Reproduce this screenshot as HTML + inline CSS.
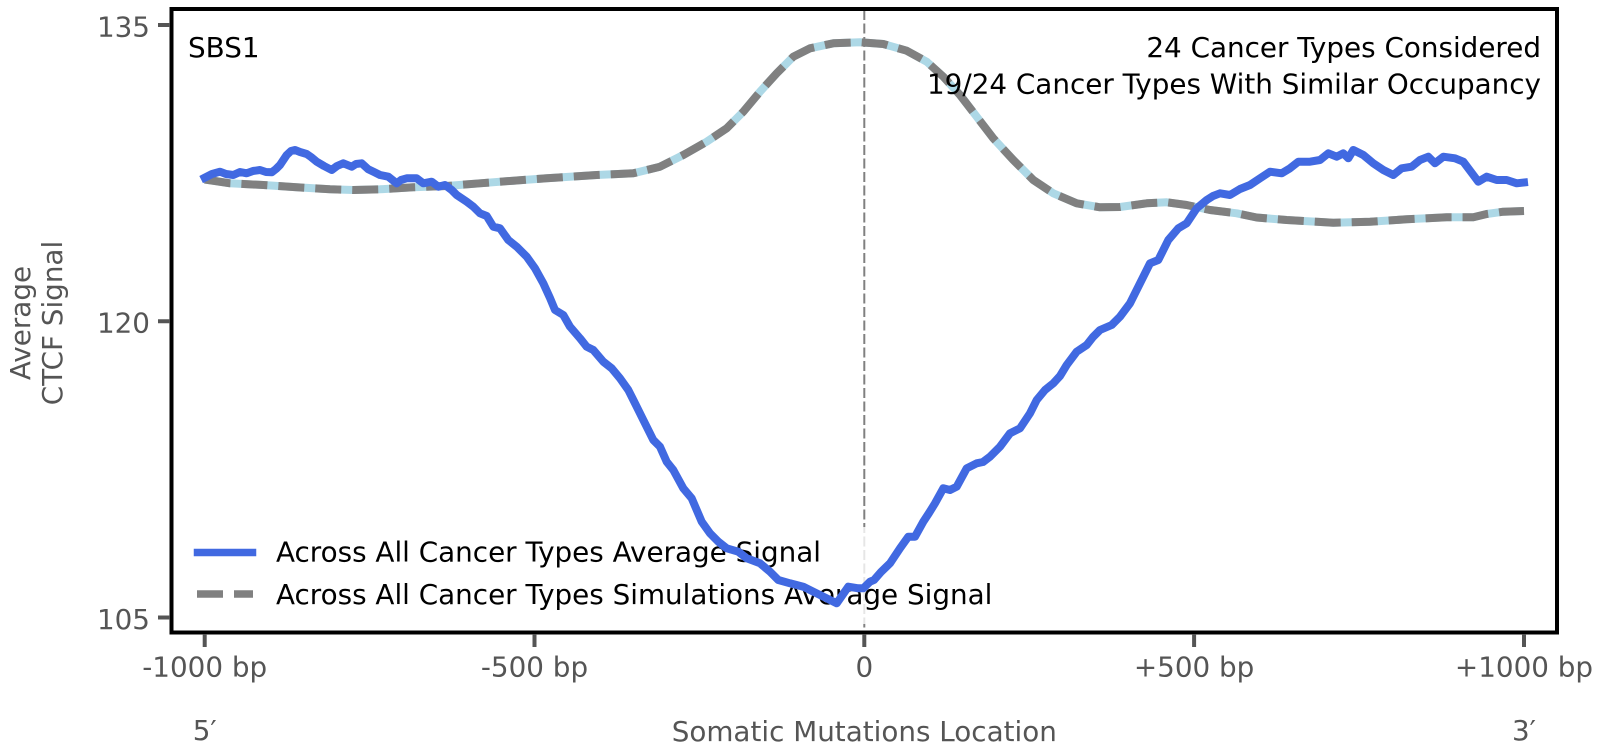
<!DOCTYPE html>
<html><head><meta charset="utf-8"><style>
html,body{margin:0;padding:0;background:#fff;}
svg{display:block;}
text{font-family:"DejaVu Sans","Liberation Sans",sans-serif;font-size:27.8px;}
</style></head><body>
<svg width="1603" height="756" viewBox="0 0 1603 756" xmlns="http://www.w3.org/2000/svg">
<rect x="0" y="0" width="1603" height="756" fill="#fff"/>
<!-- vertical dashed line -->
<line x1="864.3" y1="10" x2="864.3" y2="631" stroke="#808080" stroke-width="2" stroke-dasharray="10 3.5"/>
<!-- simulation line: lightblue under gray dashed -->
<polyline fill="none" stroke="#ADD8E6" stroke-width="8" stroke-linejoin="round" points="204.7,179.5 215,181 230,183.3 263.3,185 296.7,187.3 330,189.3 353.3,190 380,189.3 413.3,187.3 446.7,186 480,183.3 513.3,180.7 546.7,178.3 596.7,175 633.3,173.3 660,166.7 683.3,155 706.7,141.7 726.7,128.3 743.3,111.7 760,91.7 776.7,73.3 793.3,56.7 810,48.3 833.3,43.3 860,42.3 883.3,44 906.7,50.7 926.7,61.7 943.3,76.7 960,95 976.7,116.7 993.3,138.3 1013.3,160 1033.3,180 1053.3,193.3 1076.7,203.3 1100,207.3 1120,207 1146.7,203.3 1166.7,202.3 1186.7,205 1210,210 1236.7,213.3 1256.7,217.5 1286.7,220 1333.3,222.7 1370,221.7 1406.7,219.3 1446.7,217.3 1473.3,217.3 1486.7,214 1503.3,211.7 1524,211"/>
<polyline fill="none" stroke="#808080" stroke-width="8" stroke-linejoin="round" stroke-dasharray="26 11" points="204.7,179.5 215,181 230,183.3 263.3,185 296.7,187.3 330,189.3 353.3,190 380,189.3 413.3,187.3 446.7,186 480,183.3 513.3,180.7 546.7,178.3 596.7,175 633.3,173.3 660,166.7 683.3,155 706.7,141.7 726.7,128.3 743.3,111.7 760,91.7 776.7,73.3 793.3,56.7 810,48.3 833.3,43.3 860,42.3 883.3,44 906.7,50.7 926.7,61.7 943.3,76.7 960,95 976.7,116.7 993.3,138.3 1013.3,160 1033.3,180 1053.3,193.3 1076.7,203.3 1100,207.3 1120,207 1146.7,203.3 1166.7,202.3 1186.7,205 1210,210 1236.7,213.3 1256.7,217.5 1286.7,220 1333.3,222.7 1370,221.7 1406.7,219.3 1446.7,217.3 1473.3,217.3 1486.7,214 1503.3,211.7 1524,211"/>
<!-- legend background -->
<rect x="183" y="527" width="820" height="97" fill="#fff" fill-opacity="0.8"/>
<!-- legend -->
<line x1="197.5" y1="552.5" x2="252.5" y2="552.5" stroke="#4169E1" stroke-width="7.5" stroke-linecap="square"/>
<line x1="197" y1="594" x2="253" y2="594" stroke="#808080" stroke-width="7.5" stroke-dasharray="26 11"/>
<text x="276" y="561.7" fill="#000">Across All Cancer Types Average Signal</text>
<text x="276" y="604" fill="#000">Across All Cancer Types Simulations Average Signal</text>
<!-- blue line -->
<polyline fill="none" stroke="#4169E1" stroke-width="8" stroke-linejoin="round" stroke-linecap="square" points="204.7,177.7 212,174 220,171.7 226,174 233.3,175 240,172 246.7,173.3 253,171 260,170 266,172 271.7,172.3 276,169 280,165 286.7,155 291,151 295,150 300,152 306.7,154 311,157 316.7,161.7 324,166 331.7,170 337,166 343.3,163.3 351.7,166.7 356,164 361.7,163.3 368.3,169.3 374,172 380,175 388.3,176.7 396.7,183.3 401,180 406.7,178.3 416.7,178.3 423.3,183.3 431.7,181.7 438.3,186.7 445,185 451.7,190 456.7,195 466.7,201.7 473.3,206.7 480,213.3 486.7,216 493.3,226.7 500,228.3 508.3,240 516.7,246.7 526.7,256.7 535,268.3 543.3,283.3 550,298 555,310 563.3,315 570,326.7 580,338.3 586.7,346.7 593.3,350 603.3,361.7 611.7,368.3 620,378.3 628.3,390 635,403.3 643.3,420 653.3,440 660,446.7 666.7,461.7 673.3,470 683.3,488.3 691.7,498.3 701.7,521.7 710,533.3 718.3,541.7 726.7,548.3 738.3,551.7 746.7,558.3 760,563.3 770,571.7 778.3,580 790,583.3 803.3,586.7 813.3,591.7 826.7,598.3 836.7,603.3 848.3,586.7 858.3,588.3 863.3,588.3 870,581.7 874,580 881,572 890,563.3 900,548.3 908.3,536.7 915,536.7 923.3,521.7 929,513 935,503.3 943.3,488.3 950,490 956.7,486.7 966.7,468.3 976.7,463.3 983,462 990,456.7 1000,446.7 1010,433.3 1020,428.3 1030,413.3 1036.7,400 1045,390 1053.3,383.3 1060,376 1066.7,365 1076.7,351.7 1086.7,345 1093,337 1100,330 1111.7,325 1120,316.7 1130,303.3 1140,283.3 1150,263.3 1158.3,260 1168.3,240 1178.3,228.3 1186.7,223.3 1196.7,208.3 1206.7,200 1213,196 1220,193.3 1230,195 1240,189 1250,185 1260,178.3 1270,171.7 1281.7,173.3 1290,168.3 1298.3,161.7 1310,161.7 1320,160 1328.3,153.3 1336.7,156.7 1343.3,153.3 1348.3,158.3 1353.3,150 1363.3,155 1373.3,163.3 1383.3,170 1393.3,175 1401.7,168.3 1411.7,166.7 1420,160 1428.3,156.7 1435,163.3 1443.3,156.7 1455,158.3 1463.3,161.7 1473.3,175 1478.3,181.7 1486.7,176.7 1496.7,180 1506.7,180 1516.7,183.3 1524,182.5"/>
<!-- annotations -->
<text x="188" y="57" fill="#000">SBS1</text>
<text x="1541" y="57" fill="#000" text-anchor="end">24 Cancer Types Considered</text>
<text x="1541" y="93.5" fill="#000" text-anchor="end">19/24 Cancer Types With Similar Occupancy</text>
<!-- frame -->
<rect x="171.5" y="9" width="1385.5" height="623.5" fill="none" stroke="#000" stroke-width="4"/>
<!-- ticks -->
<g stroke="#555" stroke-width="4">
<line x1="158" y1="25" x2="170" y2="25"/>
<line x1="158" y1="321.25" x2="170" y2="321.25"/>
<line x1="158" y1="617.5" x2="170" y2="617.5"/>
<line x1="204.7" y1="634" x2="204.7" y2="647"/>
<line x1="534.5" y1="634" x2="534.5" y2="647"/>
<line x1="864.3" y1="634" x2="864.3" y2="647"/>
<line x1="1194.1" y1="634" x2="1194.1" y2="647"/>
<line x1="1524" y1="634" x2="1524" y2="647"/>
</g>
<g fill="#555">
<text x="150" y="36.5" text-anchor="end">135</text>
<text x="150" y="332.5" text-anchor="end">120</text>
<text x="150" y="629" text-anchor="end">105</text>
<text x="204.7" y="676.5" text-anchor="middle">-1000 bp</text>
<text x="534.5" y="676.5" text-anchor="middle">-500 bp</text>
<text x="864.3" y="676.5" text-anchor="middle">0</text>
<text x="1194.1" y="676.5" text-anchor="middle">+500 bp</text>
<text x="1524" y="676.5" text-anchor="middle">+1000 bp</text>
<text x="204.7" y="740" text-anchor="middle">5′</text>
<text x="1524" y="740" text-anchor="middle">3′</text>
<text x="864.3" y="741" text-anchor="middle">Somatic Mutations Location</text>
<text transform="translate(30,323) rotate(-90)" text-anchor="middle">Average</text>
<text transform="translate(62,323) rotate(-90)" text-anchor="middle">CTCF Signal</text>
</g>
</svg>
</body></html>
